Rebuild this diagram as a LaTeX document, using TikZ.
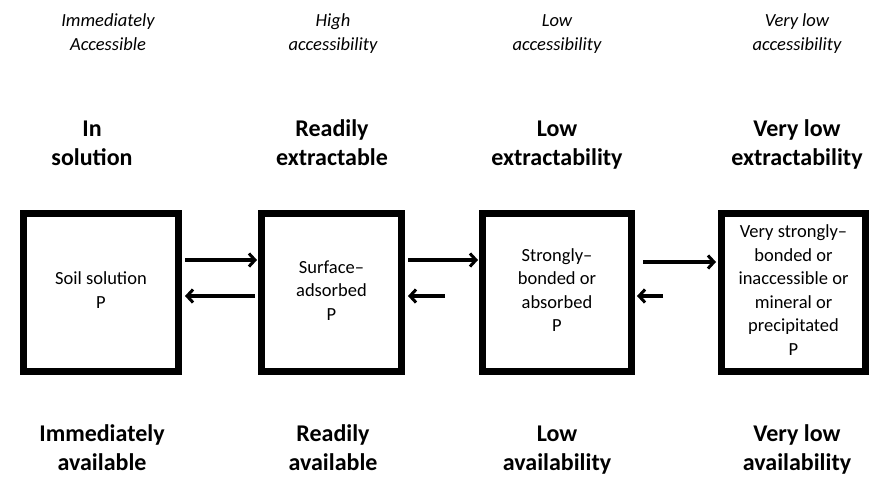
\documentclass[tikz,border=0pt]{standalone}
\usepackage{fontspec}
\setmainfont{Carlito}
\usetikzlibrary{arrows.meta,calc}
\begin{document}
\begin{tikzpicture}[x=1pt,y=-1pt,
  box/.style={draw,line width=7pt,inner sep=0pt,align=center,
    font=\fontsize{18.5}{23.5}\selectfont},
  toplab/.style={align=center,inner sep=0pt,font=\fontsize{18.5}{24}\selectfont\itshape},
  midlab/.style={align=center,inner sep=0pt,font=\fontsize{24}{29}\selectfont\bfseries},
  arr/.style={line width=4pt,-{Straight Barb[length=6pt,width=13pt,line width=3pt]}}]
\useasboundingbox (0,0) rectangle (875,477);
% boxes
\node[box,minimum width=155pt,minimum height=158pt] (b1) at (101,292) {\strut Soil solution\\P\strut};
\node[box,minimum width=140pt,minimum height=158pt] (b2) at (331.5,292) {\strut Surface--\\adsorbed\\P\strut};
\node[box,minimum width=149pt,minimum height=158pt] (b3) at (557,292) {\strut Strongly--\\bonded or\\absorbed\\P\strut};
\node[box,minimum width=144pt,minimum height=158pt] (b4) at (793.5,292) {\strut Very strongly--\\bonded or\\inaccessible or\\mineral or\\precipitated\\P\strut};
% top labels
\node[toplab] (t1) at (108,34) {\strut Immediately\\Accessible\strut};
\node[toplab] (t2) at (333,34) {\strut High\\accessibility\strut};
\node[toplab] (t3) at (557,34) {\strut Low\\accessibility\strut};
\node[toplab] (t4) at (797,34) {\strut Very low\\accessibility\strut};
% middle labels
\node[midlab] (m1) at (92,145) {\strut In\\solution\strut};
\node[midlab] (m2) at (332,145) {\strut Readily\\extractable\strut};
\node[midlab] (m3) at (557,145) {\strut Low\\extractability\strut};
\node[midlab] (m4) at (797,145) {\strut Very low\\extractability\strut};
% bottom labels
\node[midlab] (u1) at (102,448) {\strut Immediately\\available\vphantom{y}};
\node[midlab] (u2) at (333,448) {\strut Readily\\available\vphantom{y}};
\node[midlab] (u3) at (557,448) {\strut Low\\availability\vphantom{y}};
\node[midlab] (u4) at (797,448) {\strut Very low\\availability\vphantom{y}};
% arrows
\draw[arr] ($(b1.east|-0,260)+(3,0)$) -- ($(b2.west|-0,260)+(-1,0)$);
\draw[arr] ($(b2.west|-0,296)+(-3,0)$) -- ($(b1.east|-0,296)+(3,0)$);
\draw[arr] ($(b2.east|-0,260)+(3,0)$) -- ($(b3.west|-0,260)+(-1,0)$);
\coordinate (s32) at (445,296);
\draw[arr] (s32) -- ($(b2.east|-s32)+(3,0)$);
\draw[arr] ($(b3.east|-0,262)+(8,0)$) -- ($(b4.west|-0,262)+(-2,0)$);
\coordinate (s43) at (663,296);
\draw[arr] (s43) -- ($(b3.east|-s43)+(2,0)$);
\end{tikzpicture}
\end{document}
